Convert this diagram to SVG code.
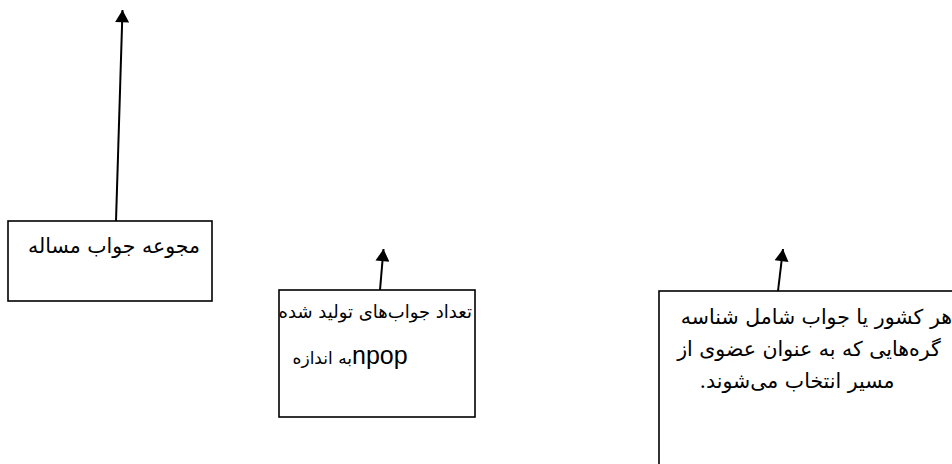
<svg xmlns="http://www.w3.org/2000/svg" width="952" height="464" viewBox="0 0 952 464">
  <style>
    .box { fill: #ffffff; stroke: #000000; stroke-width: 1.6; }
    .link { stroke: #000000; stroke-width: 2; fill: none; }
    .fa { font-family: "DejaVu Serif", "DejaVu Sans", serif; font-size: 21px; fill: #000000; direction: rtl; unicode-bidi: embed; }
    .latin { font-family: "Liberation Sans", Arial, sans-serif; font-size: 25px; fill: #000000; }
  </style>
  <defs>
    <marker id="head" viewBox="0 0 14 16" refX="14" refY="8" markerWidth="16" markerHeight="14" markerUnits="userSpaceOnUse" orient="auto">
      <path d="M0,0 L14,8 L0,16 Z" fill="#000000"/>
    </marker>
  </defs>

  <!-- connectors: each rises from the top edge of its box -->
  <g id="connectors">
    <line class="link" x1="116" y1="221" x2="122.5" y2="10" marker-end="url(#head)"/>
    <line class="link" x1="380" y1="290" x2="383.5" y2="249" marker-end="url(#head)"/>
    <line class="link" x1="778" y1="291" x2="783" y2="249" marker-end="url(#head)"/>
  </g>

  <g id="node-solutions">
    <rect class="box" x="8" y="221" width="204" height="80"/>
    <text class="fa" x="200" y="253" text-anchor="start" style="font-size:20.5px">مجوعه جواب مساله</text>
  </g>

  <g id="node-population">
    <rect class="box" x="279" y="290" width="196" height="127"/>
    <text class="fa" x="472" y="318" text-anchor="start" style="font-size:18px">تعداد جواب‌های تولید شده</text>
    <text class="fa" x="352" y="364" text-anchor="start" style="font-size:17px">به اندازه</text>
    <text class="latin" x="352" y="364">npop</text>
  </g>

  <g id="node-chromosome">
    <rect class="box" x="659" y="291" width="320" height="200"/>
    <text class="fa" x="952" y="324" text-anchor="start" style="font-size:20.5px">هر کشور یا جواب شامل شناسه</text>
    <text class="fa" x="809" y="356" text-anchor="middle" style="font-size:20.5px">گره‌هایی که به عنوان عضوی از</text>
    <text class="fa" x="797" y="388" text-anchor="middle" style="font-size:20.5px">مسیر انتخاب می‌شوند.</text>
  </g>
</svg>
